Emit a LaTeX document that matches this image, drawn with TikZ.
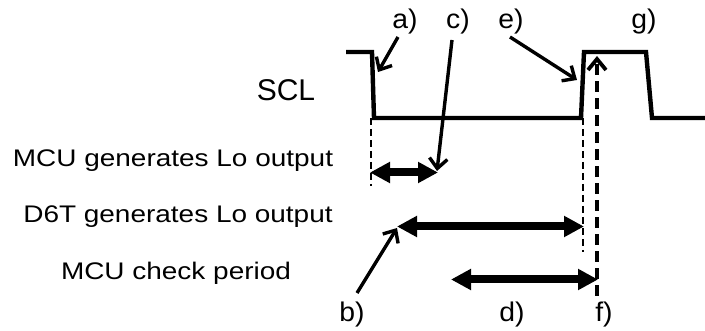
\documentclass[tikz,border=0pt]{standalone}
\usepackage{fontspec}
\setmainfont{Liberation Sans}
\usetikzlibrary{arrows.meta}
\begin{document}
\begin{tikzpicture}[x=1pt,y=-1pt,
  wave/.style={line width=4.4pt,line join=miter},
  txt/.style={font=\fontsize{24}{28}\selectfont,inner sep=0pt,xscale=1.165},
  scltxt/.style={font=\fontsize{30}{34}\selectfont,inner sep=0pt},
  lbl/.style={font=\fontsize{27}{30}\selectfont,inner sep=0pt,xscale=1.05},
  pointer/.style={line width=3.4pt,-{Straight Barb[length=10pt,width=18pt,line width=3.4pt]}},
  span/.style={line width=8pt,{Triangle[length=20pt,width=20pt]}-{Triangle[length=20pt,width=20pt]},shorten <=-1pt,shorten >=-1pt},
  guide/.style={line width=2pt,dash pattern=on 7pt off 4pt},
  fguide/.style={line width=4.4pt,dash pattern=on 11pt off 6pt,-{Straight Barb[length=11pt,width=18pt,line width=3.8pt]}}]
\useasboundingbox (0,0) rectangle (705,331);
% waveform points
\coordinate (w0) at (346,52);
\coordinate (w1) at (372,52);
\coordinate (w2) at (374,118);
\coordinate (w3) at (581,118);
\coordinate (w4) at (584,52);
\coordinate (w5) at (646,52);
\coordinate (w6) at (652,118);
\coordinate (w7) at (705,118);
\draw[wave] (w0) -- (w1) -- (w2) -- (w3) -- (w4) -- (w5) -- (w6) -- (w7);
% texts
\node[scltxt] (scl) at (286,90) {SCL};
\node[txt] (t1) at (173,161) {MCU generates Lo output};
\node[txt] (t2) at (178,217) {D6T generates Lo output};
\node[txt] (t3) at (176,273) {MCU check period};
% labels
\node[lbl] (la) at (405,22) {a)};
\node[lbl] (lc) at (458,22) {c)};
\node[lbl] (le) at (511,22) {e)};
\node[lbl] (lg) at (644,22) {g)};
\node[lbl] (lb) at (352,315) {b)};
\node[lbl] (ld) at (512,315) {d)};
\node[lbl] (lf) at (604,315) {f)};
% guide coordinates
\coordinate (g1t) at (371,118);
\coordinate (g1b) at (371,186);
\coordinate (g2t) at (583,118);
\coordinate (g2b) at (583,252);
\coordinate (ft) at (597,56);
\coordinate (fb) at (597,296);
\draw[guide] (g1t) -- (g1b);
\draw[guide] (g2t) -- (g2b);
\draw[fguide] (fb) -- (ft);
% spans
\coordinate (s1a) at (371,172.5);
\coordinate (s1b) at (437,172.5);
\coordinate (s2a) at (398,226.5);
\coordinate (s2b) at (583,226.5);
\coordinate (s3a) at (452,279.5);
\coordinate (s3b) at (597,279.5);
\draw[span] (s1a) -- (s1b);
\draw[span] (s2a) -- (s2b);
\draw[span] (s3a) -- (s3b);
% pointers
\coordinate (pa0) at (398,37);
\coordinate (pa1) at (378,72);
\coordinate (pc0) at (452,40);
\coordinate (pc1) at (437,171);
\coordinate (pe0) at (510,37);
\coordinate (pe1) at (577,80);
\coordinate (pb0) at (357,293);
\coordinate (pb1) at (397,228);
\draw[pointer] (pa0) -- (pa1);
\draw[pointer] (pc0) -- (pc1);
\draw[pointer] (pe0) -- (pe1);
\draw[pointer] (pb0) -- (pb1);
\end{tikzpicture}
\end{document}
